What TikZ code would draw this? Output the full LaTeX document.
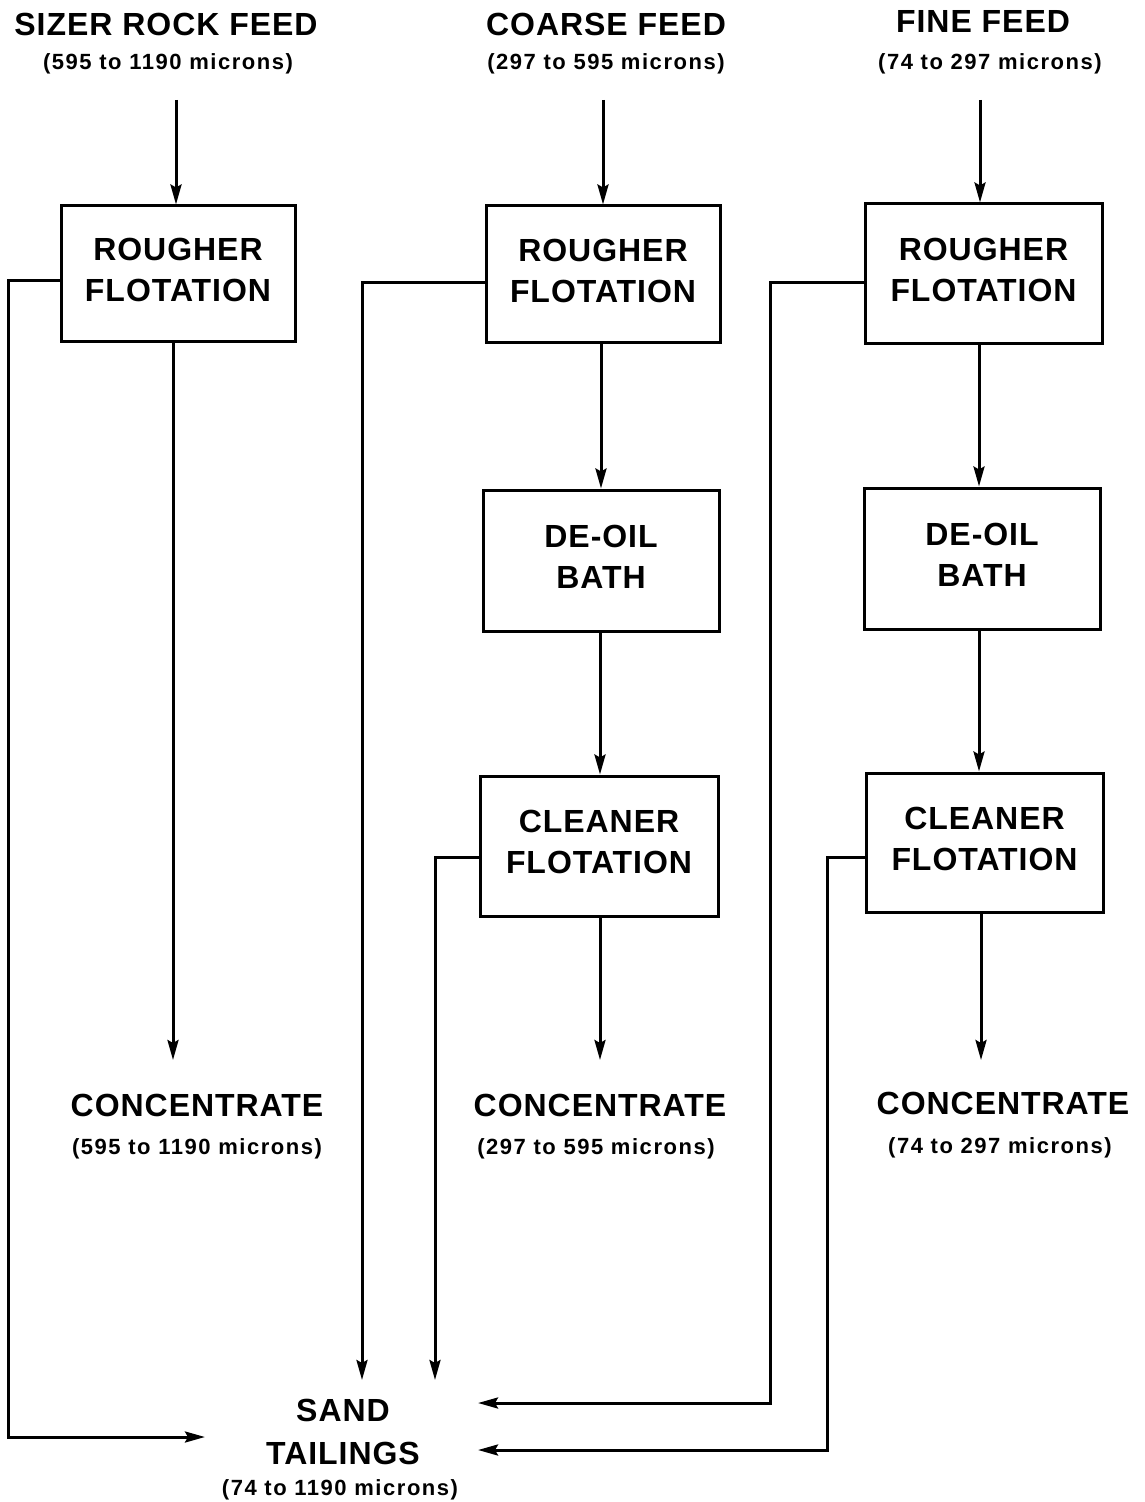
\documentclass[tikz,border=0pt]{standalone}
\usepackage{fontspec}
\setmainfont{Liberation Sans}
\newfontfamily\bigf[LetterSpace=3]{Liberation Sans}
\newfontfamily\smallf[LetterSpace=7]{Liberation Sans}
\usetikzlibrary{arrows.meta}
\begin{document}
\begin{tikzpicture}[x=0.5pt,y=-0.5pt,
  ln/.style={line width=1.5pt},
  arr/.style={ln,-{Stealth[length=10pt,width=5.5pt,inset=1.5pt]}},
  title/.style={font=\bigf\bfseries\fontsize{16}{21.5}\selectfont,align=center,inner sep=0pt},
  sub/.style={font=\smallf\bfseries\fontsize{11}{12}\selectfont,inner sep=0pt},
  box/.style={draw,line width=1.5pt,font=\bigf\bfseries\fontsize{16}{20.5}\selectfont,align=center,inner sep=0pt}]
\useasboundingbox (0,0) rectangle (1144,1502);
\fill[white] (0,0) rectangle (1144,1502);
% titles
\node[title] (t1) at (166,24) {SIZER ROCK FEED};
\node[sub] (s1) at (168,64) {(595 to 1190 microns)};
\node[title] (t2) at (606,24) {COARSE FEED};
\node[sub] (s2) at (606,64) {(297 to 595 microns)};
\node[title] (t3) at (983,22) {FINE FEED};
\node[sub] (s3) at (990,64) {(74 to 297 microns)};
% boxes
\node[box,minimum width=117pt,minimum height=68pt] (r1) at (178,274) {ROUGHER\\FLOTATION\rule[-4pt]{0pt}{0pt}};
\node[box,minimum width=117pt,minimum height=68.5pt] (r2) at (603,274.5) {ROUGHER\\FLOTATION\rule[-4pt]{0pt}{0pt}};
\node[box,minimum width=118.5pt,minimum height=70pt] (r3) at (983.5,274) {ROUGHER\\FLOTATION\rule[-4pt]{0pt}{0pt}};
\node[box,minimum width=118pt,minimum height=70.5pt] (d2) at (601,560.5) {DE-OIL\\BATH\rule[-4pt]{0pt}{0pt}};
\node[box,minimum width=118pt,minimum height=70.5pt] (d3) at (982,558.5) {DE-OIL\\BATH\rule[-4pt]{0pt}{0pt}};
\node[box,minimum width=119pt,minimum height=70pt] (c2) at (599,846) {CLEANER\\FLOTATION\rule[-4pt]{0pt}{0pt}};
\node[box,minimum width=118.5pt,minimum height=69.5pt] (c3) at (984.5,842.5) {CLEANER\\FLOTATION\rule[-4pt]{0pt}{0pt}};
% concentrates
\node[title] (k1) at (197,1105) {CONCENTRATE};
\node[sub] (ks1) at (197,1149) {(595 to 1190 microns)};
\node[title] (k2) at (600,1105) {CONCENTRATE};
\node[sub] (ks2) at (596,1149) {(297 to 595 microns)};
\node[title] (k3) at (1003,1103) {CONCENTRATE};
\node[sub] (ks3) at (1000,1148) {(74 to 297 microns)};
% tailings
\node[title] (tail) at (343,1432) {SAND\\TAILINGS};
\node[sub] (tails) at (340,1490) {(74 to 1190 microns)};
% coordinates
\coordinate (f1) at (176,100);
\coordinate (f2) at (603,100);
\coordinate (f3) at (980,100);
\coordinate (e1) at (173,1060);
\coordinate (e2) at (600,1060);
\coordinate (e3) at (981,1060);
\coordinate (ta) at (205,1437);
\coordinate (tb) at (362,1380);
\coordinate (tc) at (435,1380);
\coordinate (td) at (478,1403);
\coordinate (te) at (478,1450);
% feed arrows
\draw[arr] (f1) -- (f1 |- r1.north);
\draw[arr] (f2) -- (f2 |- r2.north);
\draw[arr] (f3) -- (f3 |- r3.north);
% vertical chain
\draw[arr] (e1 |- r1.south) -- (e1);
\draw[arr] (r2.south -| 601,0) -- (d2.north -| 601,0);
\draw[arr] (d2.south -| 600,0) -- (c2.north -| 600,0);
\draw[arr] (c2.south -| e2) -- (e2);
\draw[arr] (r3.south -| 979,0) -- (d3.north -| 979,0);
\draw[arr] (d3.south -| 979,0) -- (c3.north -| 979,0);
\draw[arr] (c3.south -| e3) -- (e3);
% tailings lines
\draw[arr] ([yshift=-3.5pt]r1.west) -| (8,1437) -- (ta);
\draw[arr] ([yshift=-4.25pt]r2.west) -| (tb);
\draw[arr] ([yshift=-5.5pt]c2.west) -| (tc);
\draw[arr] ([yshift=-4.5pt]r3.west) -| (770,1403) -- (td);
\draw[arr] ([yshift=-7.25pt]c3.west) -| (827,1450) -- (te);
\end{tikzpicture}
\end{document}
